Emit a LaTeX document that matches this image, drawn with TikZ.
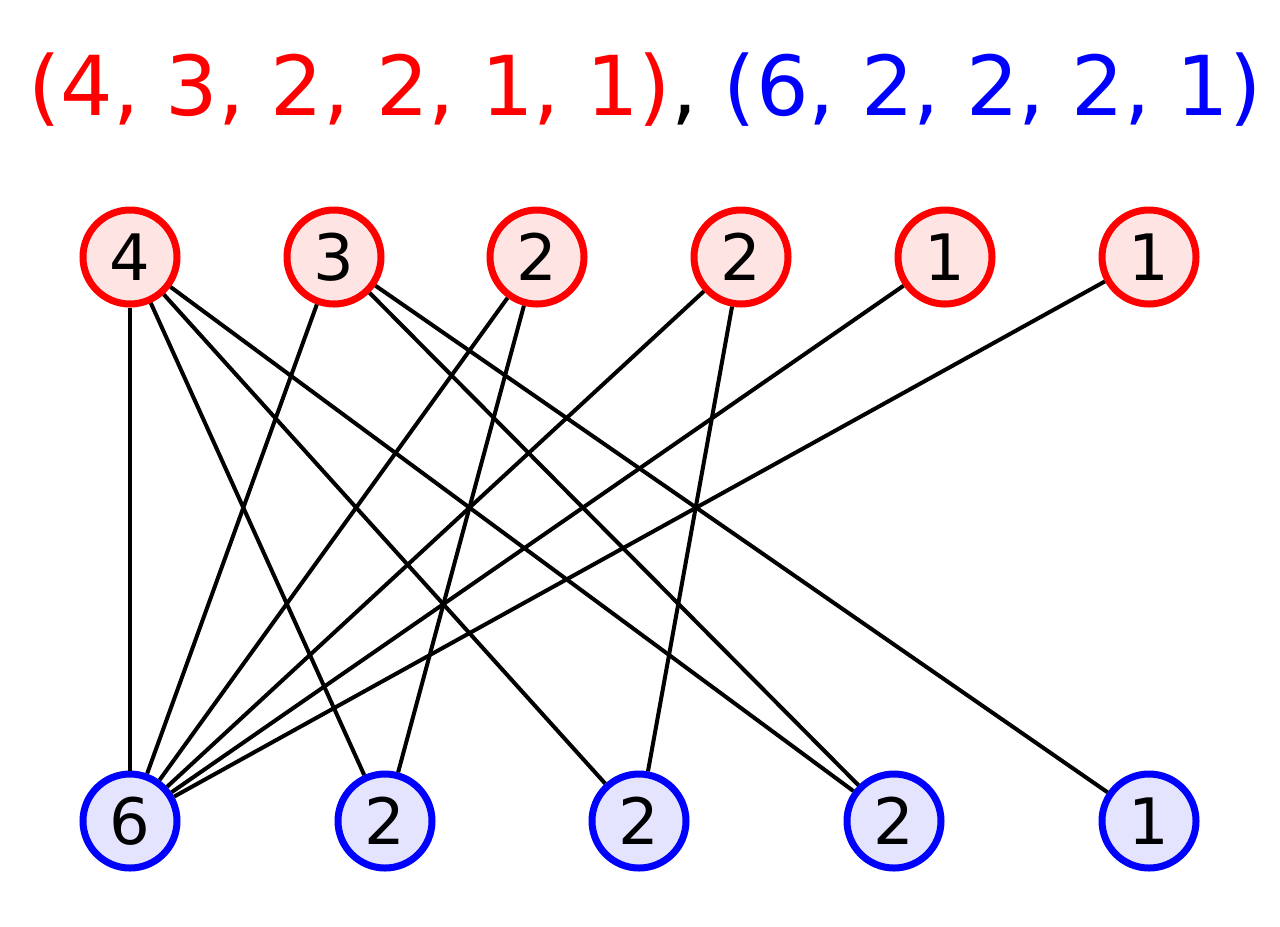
\documentclass[tikz,border=0pt]{standalone}
\usepackage{fontspec}
\setmainfont{DejaVu Sans}
\definecolor{pinkfill}{HTML}{FFE4E4}
\definecolor{bluefill}{HTML}{E4E4FF}
\tikzset{
    CR/.style ={circle,minimum size = 70.5pt, inner sep=0pt, line width=5.25pt, draw=red, fill=pinkfill, font=\fontsize{48}{48}\selectfont},
    CB/.style ={circle,minimum size = 70.5pt, inner sep=0pt, line width=5.25pt, draw=blue, fill=bluefill, font=\fontsize{48}{48}\selectfont},
    ED/.style ={line width=3pt}}
\begin{document}
\begin{tikzpicture}[x=0.75pt,y=-0.75pt]
        \useasboundingbox (0,0) rectangle (1280,926);
        \node (t) at (645,90) {\fontsize{62}{62}\selectfont\textcolor{red}{(4, 3, 2, 2, 1, 1)}, \textcolor{blue}{(6, 2, 2, 2, 1)}};
        \node[CR] (1) at(130,257){4};
        \node[CR] (2) at(334,257){3};
        \node[CR] (3) at(537,257){2};
        \node[CR] (4) at(741,257){2};
        \node[CR] (5) at(945,257){1};
        \node[CR] (6) at(1149,257){1};
        \node[CB] (7) at(130,821){6};
        \node[CB] (8) at(385,821){2};
        \node[CB] (9) at(639,821){2};
        \node[CB] (10) at(894,821){2};
        \node[CB] (11) at(1149,821){1};
        \draw[ED] (1) --(7);
        \draw[ED] (1) --(8);
        \draw[ED] (1) --(9);
        \draw[ED] (1) --(10);
        \draw[ED] (2) --(7);
        \draw[ED] (2) --(10);
        \draw[ED] (2) --(11);
        \draw[ED] (3) --(7);
        \draw[ED] (3) --(8);
        \draw[ED] (4) --(7);
        \draw[ED] (4) --(9);
        \draw[ED] (5) --(7);
        \draw[ED] (6) --(7);
    \end{tikzpicture}
\end{document}
